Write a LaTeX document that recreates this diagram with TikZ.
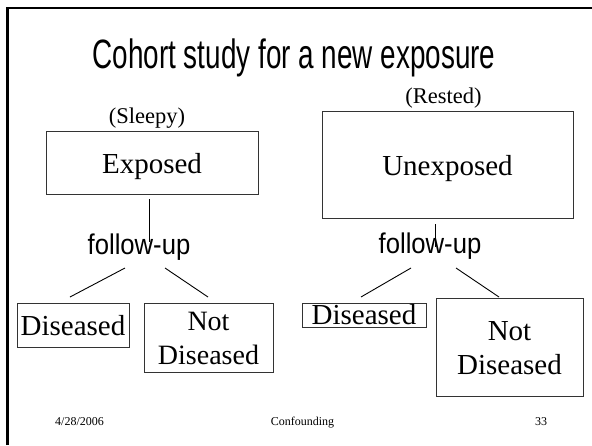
\documentclass[tikz,border=0pt]{standalone}
\usepackage{fontspec}
\usepackage{graphicx}
\setmainfont{Liberation Serif}
\newfontfamily\slidesans{Liberation Sans}
\newcommand{\fsz}[1]{\fontsize{#1}{#1}\selectfont}

\tikzset{
  box/.style={draw=black!80, line width=0.9pt, inner sep=0pt, rectangle},
  link/.style={draw=black, line width=0.9pt},
  boxtext/.style={inner sep=0pt, anchor=base, font=\fsz{29}},
  caption/.style={inner sep=0pt, anchor=base, font=\fsz{22.5}},
  followup/.style={inner sep=0pt, anchor=base},
  footer/.style={inner sep=0pt, anchor=base, font=\fsz{12}},
}

\begin{document}
\begin{tikzpicture}[x=1pt,y=-1pt]
  \useasboundingbox (0,0) rectangle (592,445);
  \fill[white] (0,0) rectangle (592,445);

  % slide frame (top and left edges)
  \draw[line width=2.7pt, line join=miter] (7.5,445) -- (7.5,8) -- (592,8);

  % title
  \node[inner sep=0pt, anchor=base] (title) at (294,68)
    {\scalebox{0.68}[1]{\slidesans\fsz{41}Cohort study for a new exposure}};

  % ---- exposed cohort ----
  \node[caption] (sleepy) at (147,123) {(Sleepy)};
  \node[box, minimum width=212pt, minimum height=63pt] (exposed) at (152,162.5) {};
  \node[boxtext] (exposedtxt) at (152,173) {Exposed};
  \coordinate (etop) at (149,199);
  \coordinate (ebot) at (149,242);
  \draw[link] (etop) -- (ebot);
  \node[followup] (fuleft) at (139,254)
    {\scalebox{0.9}[1]{\slidesans\fsz{28.5}follow-up}};
  \coordinate (la1) at (125,268);
  \coordinate (la2) at (165,268);
  \coordinate (lb1) at (70,297);
  \coordinate (lb2) at (208,297);
  \draw[link] (la1) -- (lb1);
  \draw[link] (la2) -- (lb2);

  \node[box, minimum width=112pt, minimum height=44pt] (dis1) at (73,325) {};
  \node[boxtext] (dis1txt) at (73,335) {Diseased};
  \node[box, minimum width=129pt, minimum height=69pt] (nd1) at (208.5,337.5) {};
  \node[boxtext, font=\fsz{28}] (nd1a) at (208.5,330) {Not};
  \node[boxtext, font=\fsz{28}] (nd1b) at (208.5,364) {Diseased};

  % ---- unexposed cohort ----
  \node[caption] (rested) at (443.5,103) {(Rested)};
  \node[box, minimum width=251pt, minimum height=107pt] (unexposed) at (447.5,164.5) {};
  \node[boxtext] (unexposedtxt) at (447.5,175) {Unexposed};
  \coordinate (utop) at (435,224);
  \coordinate (ubot) at (435,247);
  \draw[link] (utop) -- (ubot);
  \node[followup] (furight) at (430,253)
    {\scalebox{0.9}[1]{\slidesans\fsz{28.5}follow-up}};
  \coordinate (ra1) at (411,268);
  \coordinate (ra2) at (456,268);
  \coordinate (rb1) at (361,297);
  \coordinate (rb2) at (499,297);
  \draw[link] (ra1) -- (rb1);
  \draw[link] (ra2) -- (rb2);

  \node[box, minimum width=124pt, minimum height=24pt] (dis2) at (364,315) {};
  \node[boxtext] (dis2txt) at (364,324) {Diseased};
  \node[box, minimum width=147pt, minimum height=98pt] (nd2) at (509.5,347) {};
  \node[boxtext] (nd2a) at (509.5,340) {Not};
  \node[boxtext] (nd2b) at (509.5,374) {Diseased};

  % footer
  \node[footer] (date) at (79.5,425) {4/28/2006};
  \node[footer] (topic) at (302.5,425) {Confounding};
  \node[footer] (page) at (541,425) {33};
\end{tikzpicture}
\end{document}
